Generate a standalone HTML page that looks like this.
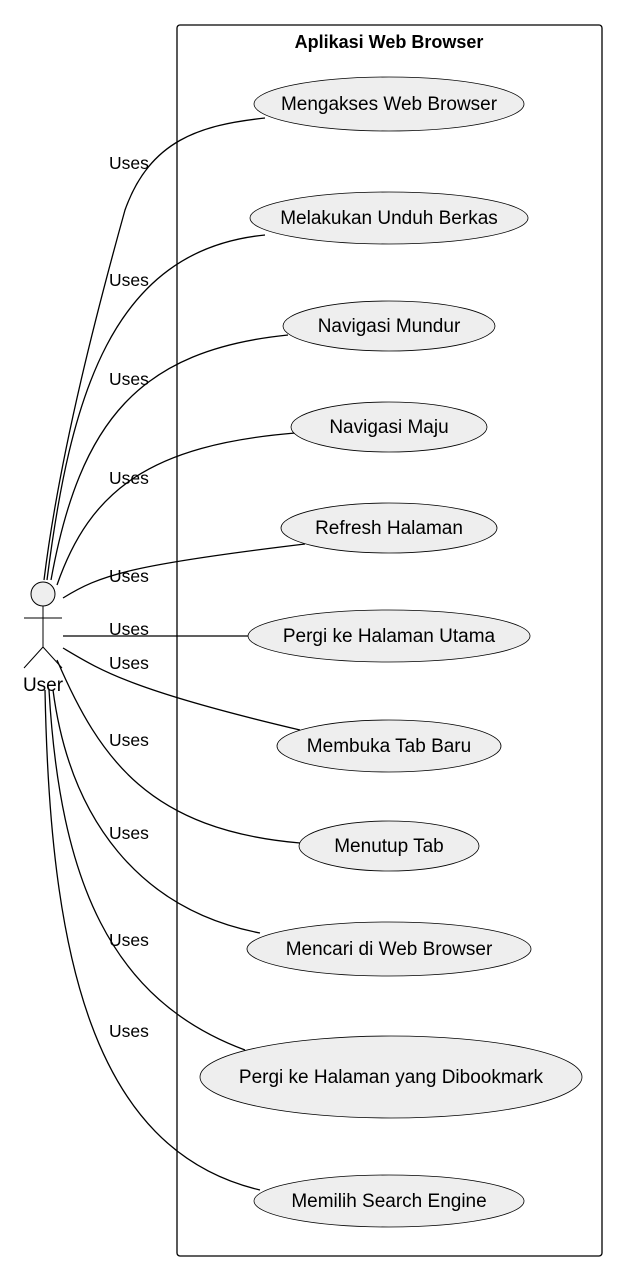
<!DOCTYPE html>
<html><head><meta charset="utf-8"><style>
html,body{margin:0;padding:0;background:#fff}
svg{display:block}
text{font-family:"Liberation Sans",Arial,sans-serif;fill:#000}
</style></head><body>
<svg width="627" height="1280" viewBox="0 0 627 1280" xmlns="http://www.w3.org/2000/svg">
<rect x="177" y="25" width="425" height="1231" rx="3" fill="none" stroke="#000" stroke-width="1.3"/>
<text x="389" y="48" font-size="18" font-weight="bold" text-anchor="middle">Aplikasi Web Browser</text>
<g fill="none" stroke="#000" stroke-width="1.3">
<path d="M44,580 C60,450 100,300 125,210 C150,140 200,125 265,118"/>
<path d="M47,580 C70,400 110,250 265,235"/>
<path d="M51,580 C80,420 140,350 288,335"/>
<path d="M57,585 C90,490 150,445 295,433"/>
<path d="M63,598 C100,575 130,565 305,544"/>
<path d="M63,636 L248,636"/>
<path d="M63,648 C100,670 130,690 300,730"/>
<path d="M57,660 C100,760 150,830 300,843"/>
<path d="M53,690 C70,820 140,910 260,933"/>
<path d="M49,690 C60,880 110,1000 245,1050"/>
<path d="M45,690 C50,950 90,1150 260,1190"/>
</g>
<g font-size="17.5">
<text x="109" y="169">Uses</text>
<text x="109" y="286">Uses</text>
<text x="109" y="385">Uses</text>
<text x="109" y="484">Uses</text>
<text x="109" y="582">Uses</text>
<text x="109" y="635">Uses</text>
<text x="109" y="669">Uses</text>
<text x="109" y="746">Uses</text>
<text x="109" y="839">Uses</text>
<text x="109" y="946">Uses</text>
<text x="109" y="1037">Uses</text>
</g>
<g fill="#eeeeee" stroke="#000" stroke-width="0.8">
<ellipse cx="389" cy="104" rx="135" ry="27"/>
<ellipse cx="389" cy="218" rx="139" ry="26"/>
<ellipse cx="389" cy="326" rx="106" ry="25"/>
<ellipse cx="389" cy="427" rx="98" ry="25"/>
<ellipse cx="389" cy="528" rx="108" ry="25"/>
<ellipse cx="389" cy="636" rx="141" ry="26"/>
<ellipse cx="389" cy="746" rx="112" ry="26"/>
<ellipse cx="389" cy="846" rx="90" ry="25"/>
<ellipse cx="389" cy="949" rx="142" ry="27"/>
<ellipse cx="391" cy="1077" rx="191" ry="41"/>
<ellipse cx="389" cy="1201" rx="135" ry="26"/>
</g>
<g font-size="19" text-anchor="middle">
<text x="389" y="110">Mengakses Web Browser</text>
<text x="389" y="224">Melakukan Unduh Berkas</text>
<text x="389" y="332">Navigasi Mundur</text>
<text x="389" y="433">Navigasi Maju</text>
<text x="389" y="534">Refresh Halaman</text>
<text x="389" y="642">Pergi ke Halaman Utama</text>
<text x="389" y="752">Membuka Tab Baru</text>
<text x="389" y="852">Menutup Tab</text>
<text x="389" y="955">Mencari di Web Browser</text>
<text x="391" y="1083">Pergi ke Halaman yang Dibookmark</text>
<text x="389" y="1207">Memilih Search Engine</text>
</g>
<circle cx="43" cy="594" r="12" fill="#eeeeee" stroke="#000" stroke-width="1"/>
<g stroke="#000" stroke-width="1" fill="none">
<line x1="43" y1="606" x2="43" y2="647"/>
<line x1="24" y1="618" x2="62" y2="618"/>
<line x1="43" y1="647" x2="24" y2="668"/>
<line x1="43" y1="647" x2="62" y2="668"/>
</g>
<text x="43" y="691" font-size="19" text-anchor="middle">User</text>
</svg>
</body></html>
